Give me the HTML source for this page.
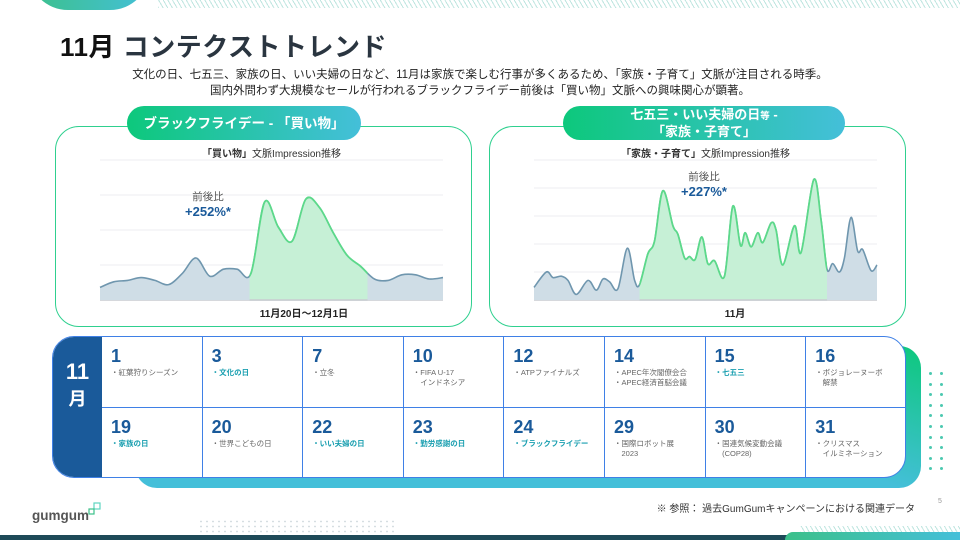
<!DOCTYPE html>
<html><head><meta charset="utf-8">
<style>
*{margin:0;padding:0;box-sizing:border-box}
body{width:960px;height:540px;overflow:hidden;background:#fff;font-family:"Liberation Sans","Noto Sans CJK JP",sans-serif;position:relative}
.abs{position:absolute}
.title{left:60px;top:27px;font-size:26px;font-weight:bold;color:#111;letter-spacing:0.5px}
.title span{color:#2a3540}
.sub{left:0;width:960px;text-align:center;font-size:11.5px;color:#222;line-height:16px;top:67px}
.panel{border:1.5px solid #2fd08f;border-radius:24px;background:#fff}
.tab{border-radius:18px;background:linear-gradient(90deg,#0dc87c,#44bfd9);color:#fff;font-weight:bold;text-align:center;display:flex;flex-direction:column;align-items:center;justify-content:center;line-height:15px;font-size:13.5px;white-space:nowrap}
.ctitle{font-size:10px;color:#333;text-align:center}
.ctitle b{font-weight:bold}
.cell{position:absolute;border-right:1.5px solid #3f80e6;border-bottom:1.5px solid #3f80e6}
.num{position:absolute;left:9px;top:9px;font-size:18px;font-weight:bold;color:#1a5a9a}
.ev{position:absolute;left:9px;top:31px;font-size:7.5px;color:#666;line-height:10px;white-space:nowrap}
.ev.hl{color:#1a9fb0;font-weight:bold}
</style></head><body>
<div class="abs" style="left:28px;top:-40px;width:122px;height:50px;border-radius:0 0 40px 40px;background:linear-gradient(90deg,#3cc08a,#44c0d8)"></div>
<div class="abs" style="left:158px;top:0;width:802px;height:8px;background:repeating-linear-gradient(60deg,#bfe6e0 0 1px,#fff 1px 4px)"></div>

<div class="abs title">11月 <span>コンテクストトレンド</span></div>
<div class="abs sub">文化の日、七五三、家族の日、いい夫婦の日など、11月は家族で楽しむ行事が多くあるため、「家族・子育て」文脈が注目される時季。<br>国内外問わず大規模なセールが行われるブラックフライデー前後は「買い物」文脈への興味関心が顕著。</div>

<div class="abs panel" style="left:55px;top:126px;width:417px;height:201px"></div>
<div class="abs tab" style="left:127px;top:106px;width:234px;height:34px">ブラックフライデー - 「買い物」</div>
<div class="abs ctitle" style="left:100px;top:145px;width:343px"><b>「買い物」</b>文脈Impression推移</div>
<div class="abs panel" style="left:489px;top:126px;width:417px;height:201px"></div>
<div class="abs tab" style="left:563px;top:106px;width:282px;height:34px;font-size:13px"><div>七五三・いい夫婦の日<span style="font-size:9.5px">等</span> -</div><div>「家族・子育て」</div></div>
<div class="abs ctitle" style="left:534px;top:145px;width:343px"><b>「家族・子育て」</b>文脈Impression推移</div>

<svg class="abs" style="left:0;top:0" width="960" height="540">
<defs>
<clipPath id="clipL"><rect id="clipLr" y="150" height="160"/></clipPath>
<clipPath id="clipR"><rect id="clipRr" y="150" height="160"/></clipPath>
</defs>
<g id="chartL"></g><g id="chartR"></g>
<text x="208" y="200" font-size="10.5" fill="#555" text-anchor="middle">前後比</text>
<text x="208" y="216" font-size="13" font-weight="bold" fill="#1a5a9a" text-anchor="middle">+252%*</text>
<text x="704" y="180" font-size="10.5" fill="#555" text-anchor="middle">前後比</text>
<text x="704" y="196" font-size="13" font-weight="bold" fill="#1a5a9a" text-anchor="middle">+227%*</text>
<text x="304" y="317" font-size="10" font-weight="bold" fill="#222" text-anchor="middle">11月20日〜12月1日</text>
<text x="735" y="317" font-size="10" font-weight="bold" fill="#222" text-anchor="middle">11月</text>
</svg>

<div class="abs" style="left:135px;top:346px;width:786px;height:142px;border-radius:22px;background:linear-gradient(200deg,#0dc87c 0%,#44bfd9 35%,#44bfd9 100%)"></div>
<div class="abs" style="left:52px;top:336px;width:854px;height:142px;border:1.5px solid #3f80e6;border-radius:22px;background:#fff;overflow:hidden">
  <div class="abs" style="left:0;top:0;width:49px;height:140px;background:#1a5a9a;color:#fff;font-weight:bold;text-align:center;padding-top:22px;font-size:22px;line-height:26px">11<br><span style="font-size:18px">月</span></div>
  <div id="cells"></div>
</div>
<div class="abs" id="dots" style="left:925px;top:372px;width:20px;height:100px"></div>

<svg class="abs" style="left:16px;top:500px" width="90" height="26">
<text x="16" y="20" font-size="13.5" font-weight="bold" fill="#555" font-family="Liberation Sans,sans-serif">gumgum</text>
<rect x="78" y="3" width="6" height="6" fill="none" stroke="#5ed6c0" stroke-width="1.2"/>
<rect x="73" y="9" width="5" height="5" fill="none" stroke="#3cc08a" stroke-width="1.2"/>
</svg>
<div class="abs" style="right:45px;top:500px;font-size:10px;color:#333">※ 参照： 過去GumGumキャンペーンにおける関連データ</div>
<div class="abs" style="left:938px;top:498px;font-size:7px;color:#999">5</div>
<div class="abs" style="left:198px;top:519px;width:196px;height:16px;background:radial-gradient(circle,#cfd8dc 0.7px,transparent 1px) 0 0/6px 5px"></div>
<div class="abs" style="left:800px;top:526px;width:160px;height:7px;background:repeating-linear-gradient(60deg,#bfe6e0 0 1px,#fff 1px 4px)"></div>
<div class="abs" style="left:0;top:535px;width:960px;height:5px;background:#1e4a58"></div>
<div class="abs" style="left:785px;top:532px;width:175px;height:8px;border-radius:10px 0 0 0;background:linear-gradient(90deg,#3cc08a,#44bfd9)"></div>

<script>
// Left chart data (daily, evenly spaced)
const leftValues=[9,13,14,16,14,11,19,30,17,22,22,19,70,52,42,72,66,48,32,24,15,14,18,18,15,16];
const leftHighlight=[10.9,19.5];
// Right chart data (day-of-month time, value)
const rightTimes=[0,1.08,1.66,2.39,2.97,3.70,4.72,5.45,6.03,6.61,7.34,8.16,8.80,9.23,9.96,10.54,11.27,12.15,12.58,13.17,13.60,14.10,14.68,15.20,15.79,16.66,17.39,18.06,18.47,18.99,19.57,20.01,20.74,21.17,21.76,22.78,23.36,24.47,25.11,25.63,26.13,26.71,27.15,27.73,28.31,28.75,29.48,30];
const rightValues=[9,20,16,17,14,4,14,7,15,13,8,37,14,11,33,42,78,53,47,30,31,29,45,26,28,17,67,39,48,38,48,41,55,50,25,53,34,86,57,22,26,20,30,59,35,36,21,25];
const rightHighlight=[9.23,25.63];
const leftGridValues=[0,25,50,75,100];
const rightGridValues=[0,20,40,60,80,100];

const NS='http://www.w3.org/2000/svg';
function mk(tag,attrs,parent){const e=document.createElementNS(NS,tag);for(const k in attrs)e.setAttribute(k,attrs[k]);parent.appendChild(e);return e;}
function smooth(pts){let d='M'+pts[0][0]+','+pts[0][1];for(let i=0;i<pts.length-1;i++){const p0=pts[Math.max(0,i-1)],p1=pts[i],p2=pts[i+1],p3=pts[Math.min(pts.length-1,i+2)];const c1=[p1[0]+(p2[0]-p0[0])/6,p1[1]+(p2[1]-p0[1])/6],c2=[p2[0]-(p3[0]-p1[0])/6,p2[1]-(p3[1]-p1[1])/6];d+=' C'+c1[0]+','+c1[1]+' '+c2[0]+','+c2[1]+' '+p2[0]+','+p2[1];}return d;}
function drawChart(g,xs,vs,hl,grid,x0,x1,yTop,yBase,vmax,clipId,prefix){
  const X=t=>x0+(t-xs[0])/(xs[xs.length-1]-xs[0])*(x1-x0);
  const Y=v=>yBase-v/vmax*(yBase-yTop);
  grid.forEach(v=>{const l=mk('line',{x1:x0,x2:x1,y1:Y(v),y2:Y(v),stroke:v===0?'#c8ccd0':'#eceef0','stroke-width':v===0?1.5:1},g);
    
    });
  const pts=xs.map((t,i)=>[X(t),Y(vs[i])]);
  const line=smooth(pts);
  const area=line+' L'+x1+','+yBase+' L'+x0+','+yBase+' Z';
  const a=mk('path',{d:area,fill:'#cfdde6'},g);
  
  
  const l=mk('path',{d:line,fill:'none',stroke:'#6f96ae','stroke-width':1.6},g);
  
  
  const r=document.getElementById(clipId+'r');r.setAttribute('x',X(hl[0]));r.setAttribute('width',X(hl[1])-X(hl[0]));
  const hg=mk('g',{'clip-path':'url(#'+clipId+')'},g);
  const ha=mk('path',{d:area,fill:'#c6f0d6'},hg);
  
  
  const hl2=mk('path',{d:line,fill:'none',stroke:'#5cd98a','stroke-width':1.8},hg);
  
  
  mk('line',{x1:X(hl[0]),x2:X(hl[1]),y1:yBase,y2:yBase,stroke:'#c8ccd0','stroke-width':1.5},g);
}
drawChart(document.getElementById('chartL'),leftValues.map((v,i)=>i),leftValues,leftHighlight,leftGridValues,100,443,160,300,100,'clipL','left-chart');
drawChart(document.getElementById('chartR'),rightTimes,rightValues,rightHighlight,rightGridValues,534,877,160,300,100,'clipR','right-chart');

const days=['1','3','7','10','12','14','15','16','19','20','22','23','24','29','30','31'];
const events=[['・紅葉狩りシーズン'],['・文化の日'],['・立冬'],['・FIFA U-17','　インドネシア'],['・ATPファイナルズ'],['・APEC年次閣僚会合','・APEC経済首脳会議'],['・七五三'],['・ボジョレーヌーボ','　解禁'],['・家族の日'],['・世界こどもの日'],['・いい夫婦の日'],['・勤労感謝の日'],['・ブラックフライデー'],['・国際ロボット展','　2023'],['・国連気候変動会議','　(COP28)'],['・クリスマス','　イルミネーション']];
const highlighted=[false,true,false,false,false,false,true,false,true,false,true,true,true,false,false,false];
const cells=document.getElementById('cells');
days.forEach((d,i)=>{const c=document.createElement('div');c.className='cell';
  const col=i%8,row=Math.floor(i/8);
  c.style.left=(49+col*100.6)+'px';c.style.top=(row*70.5)+'px';c.style.width='100.6px';c.style.height='70.5px';
  if(col===7)c.style.borderRight='none';if(row===1)c.style.borderBottom='none';
  
  
  c.innerHTML='<div class="num">'+d+'</div><div class="ev'+(highlighted[i]?' hl':'')+'">'+events[i].join('<br>')+'</div>';
  cells.appendChild(c);});
const dots=document.getElementById('dots');
for(let r=0;r<10;r++)for(let k=0;k<2;k++){const s=document.createElement('div');s.style.cssText='position:absolute;width:3px;height:3px;border-radius:50%;background:#4cc9b0;left:'+(k*11+4)+'px;top:'+(r*10.6)+'px';
  
  
  dots.appendChild(s);}
</script>
</body></html>
